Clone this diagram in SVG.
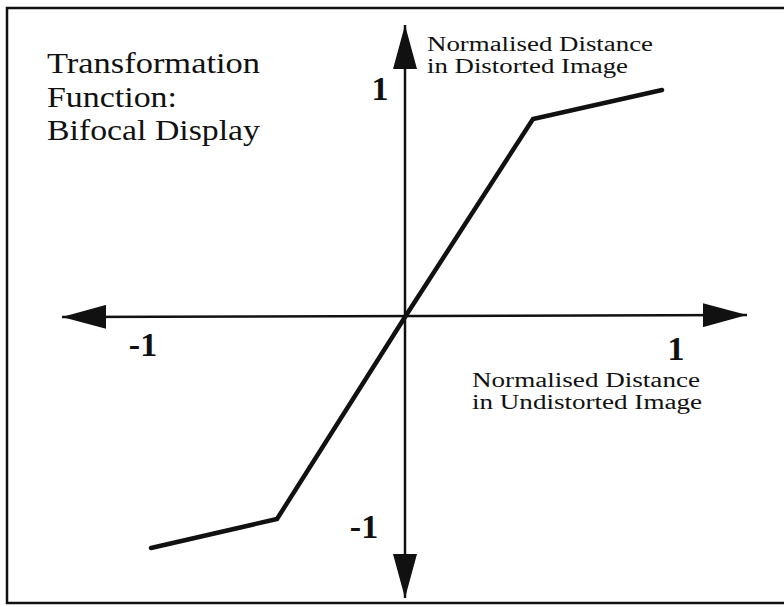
<svg xmlns="http://www.w3.org/2000/svg" width="784" height="607" viewBox="0 0 784 607">
  <style>
    .serif { font-family: "Liberation Serif", "DejaVu Serif", serif; fill: #111; }
    .title { font-size: 30px; }
    .lbl { font-size: 20px; }
    .num { font-size: 34px; font-weight: bold; }
    .axis { stroke: #111; stroke-width: 2.5; fill: none; }
    .curve { stroke: #111; stroke-width: 4.5; fill: none; stroke-linejoin: miter; stroke-linecap: round; }
  </style>
  <defs>
    <marker id="arrow" viewBox="0 0 44 24" refX="44" refY="12" markerWidth="44" markerHeight="24" markerUnits="userSpaceOnUse" orient="auto-start-reverse">
      <path d="M0,0 L44,12 L0,24 Z" fill="#111"/>
    </marker>
  </defs>
  <rect width="784" height="607" fill="#fff"/>
  <rect id="frame" x="7" y="8" width="800" height="595" fill="none" stroke="#111" stroke-width="2.5"/>

  <g id="connectors">
    <line id="y-axis" class="axis" x1="405" y1="25" x2="405" y2="598" marker-start="url(#arrow)" marker-end="url(#arrow)"/>
    <line id="x-axis" class="axis" x1="62" y1="317" x2="747" y2="315" marker-start="url(#arrow)" marker-end="url(#arrow)"/>
    <polyline id="transfer-curve" class="curve" points="151,548 277,519 405,317 533,119 662,90"/>
  </g>

  <g id="title">
    <text class="serif title" x="47" y="73" textLength="213" lengthAdjust="spacingAndGlyphs">Transformation</text>
    <text class="serif title" x="47" y="107" textLength="130" lengthAdjust="spacingAndGlyphs">Function:</text>
    <text class="serif title" x="47" y="140" textLength="213" lengthAdjust="spacingAndGlyphs">Bifocal Display</text>
  </g>

  <g id="y-label">
    <text class="serif lbl" x="427" y="51" textLength="226" lengthAdjust="spacingAndGlyphs">Normalised Distance</text>
    <text class="serif lbl" x="427" y="73" textLength="201" lengthAdjust="spacingAndGlyphs">in Distorted Image</text>
  </g>

  <g id="x-label">
    <text class="serif lbl" x="472" y="387" textLength="228" lengthAdjust="spacingAndGlyphs">Normalised Distance</text>
    <text class="serif lbl" x="472" y="409" textLength="230" lengthAdjust="spacingAndGlyphs">in Undistorted Image</text>
  </g>

  <g id="ticks">
    <text class="serif num" x="380" y="100" text-anchor="middle">1</text>
    <text class="serif num" x="143" y="356" text-anchor="middle">-1</text>
    <text class="serif num" x="676" y="360" text-anchor="middle">1</text>
    <text class="serif num" x="364" y="538" text-anchor="middle">-1</text>
  </g>
</svg>
